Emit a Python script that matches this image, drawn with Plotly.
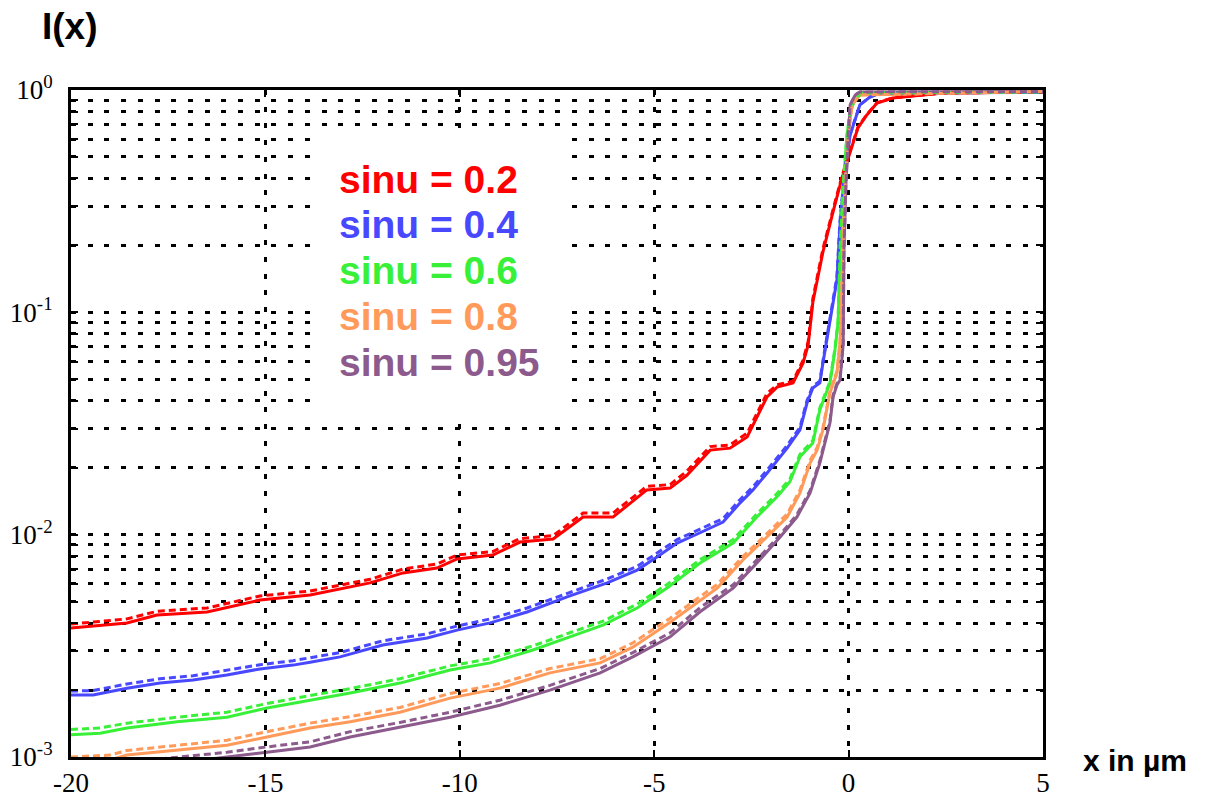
import plotly.graph_objects as go

# ---------------- data ----------------
labels = ["sinu = 0.2", "sinu = 0.4", "sinu = 0.6", "sinu = 0.8", "sinu = 0.95"]
colors = ["#FF0000", "#4848FF", "#38F038", "#FF9A5A", "#8C5A8C"]

x_s02 = [-20, -18.56, -17.79, -16.5, -15.14, -13.85, -12.31, -11.46, -10.59, -10.07, -9.15, -8.45, -7.6,
         -6.83, -6.06, -5.19, -4.59, -4.16, -3.56, -3.05, -2.61, -2.1, -1.84, -1.43, -1.17, -1.04, -0.92,
         -0.66, -0.4, -0.17, 0.04, 0.24, 0.47, 0.73, 1.14, 2.43, 5.0]
y_s02_solid = [0.0038, 0.00401, 0.00435, 0.00449, 0.00508, 0.00535, 0.00607, 0.00673, 0.00708, 0.00778,
               0.0081, 0.00926, 0.00956, 0.012, 0.012, 0.0159, 0.0162, 0.0185, 0.024, 0.0245, 0.0275,
               0.0416, 0.0461, 0.0481, 0.0592, 0.0713, 0.111, 0.187, 0.283, 0.402, 0.526, 0.675, 0.772,
               0.874, 0.921, 0.969, 0.98]
y_s02_dash = [0.00396, 0.00418, 0.00452, 0.00468, 0.0053, 0.00558, 0.0063, 0.007, 0.00738, 0.0081,
              0.0084, 0.0096, 0.0099, 0.0125, 0.0125, 0.0165, 0.0168, 0.0193, 0.0249, 0.0253, 0.0286,
              0.0432, 0.0472, 0.049, 0.061, 0.074, 0.115, 0.193, 0.29, 0.41, 0.533, 0.68, 0.776,
              0.876, 0.922, 0.969, 0.98]

x_s04 = [-20, -19.43, -18.56, -17.71, -16.86, -15.99, -15.14, -14.29, -13.85, -13.08, -11.98, -10.84,
         -10.07, -9.22, -8.27, -7.24, -6.21, -5.44, -4.93, -4.41, -3.82, -3.23, -2.79, -2.46, -2.1, -1.58,
         -1.25, -1.07, -0.92, -0.74, -0.66, -0.56, -0.43, -0.3, -0.22, -0.09, 0.04, 0.17, 0.29, 0.55, 0.81, 5.0]
y_s04_solid = [0.0019, 0.0019, 0.00204, 0.00215, 0.00222, 0.00234, 0.00249, 0.00259, 0.00267, 0.00282,
               0.00319, 0.00343, 0.00372, 0.00401, 0.00449, 0.00525, 0.00607, 0.00693, 0.00794, 0.00917,
               0.0102, 0.0114, 0.0139, 0.0159, 0.0189, 0.0245, 0.0296, 0.0391, 0.0457, 0.0481,
               0.0592, 0.075, 0.1, 0.14, 0.25, 0.446, 0.628, 0.748, 0.857, 0.93, 0.97, 0.975]
y_s04_dash = [0.00198, 0.00199, 0.00213, 0.00225, 0.00232, 0.00245, 0.0026, 0.00271, 0.0028, 0.00295,
              0.00333, 0.00358, 0.00388, 0.00418, 0.00468, 0.00546, 0.00632, 0.0072, 0.00825, 0.0095,
              0.0106, 0.0118, 0.0144, 0.0164, 0.0195, 0.0252, 0.0304, 0.0401, 0.0466, 0.049,
              0.0605, 0.077, 0.103, 0.145, 0.26, 0.45, 0.632, 0.75, 0.858, 0.93, 0.97, 0.975]

x_s06 = [-20, -19.25, -18.56, -17.27, -15.99, -14.96, -13.85, -12.82, -11.54, -10.25, -9.22, -8.12,
         -7.17, -6.32, -5.44, -4.67, -3.82, -2.97, -2.36, -1.84, -1.51, -1.25, -0.92, -0.74, -0.48,
         -0.35, -0.27, -0.22, -0.14, -0.04, 0.04, 0.17, 0.37, 5.0]
y_s06_solid = [0.00126, 0.00128, 0.00135, 0.00144, 0.00151, 0.00166, 0.0018, 0.00194, 0.00215, 0.00246,
               0.00265, 0.00303, 0.00347, 0.00392, 0.00468, 0.00575, 0.00746, 0.00917, 0.012, 0.0148,
               0.0173, 0.0224, 0.0258, 0.0364, 0.0481, 0.0677, 0.09, 0.187, 0.374, 0.628,
               0.796, 0.921, 0.97, 0.98]
y_s06_dash = [0.00133, 0.00135, 0.00142, 0.00151, 0.00159, 0.00174, 0.00189, 0.00203, 0.00225, 0.00257,
              0.00277, 0.00316, 0.00362, 0.00408, 0.00487, 0.00597, 0.00772, 0.0095, 0.0124, 0.0153,
              0.0178, 0.023, 0.0265, 0.0372, 0.049, 0.069, 0.092, 0.19, 0.378, 0.63,
              0.798, 0.922, 0.97, 0.98]

x_s08 = [-20, -19.0, -18.56, -17.27, -15.99, -14.96, -13.85, -12.82, -11.54, -10.25, -8.97, -7.68,
         -6.39, -5.55, -4.59, -3.38, -2.72, -2.1, -1.58, -1.25, -0.99, -0.81, -0.66, -0.48, -0.3,
         -0.22, -0.14, -0.09, -0.01, 0.09, 0.29, 5.0]
y_s08_solid = [0.00095, 0.00097, 0.00102, 0.00107, 0.00113, 0.00123, 0.00135, 0.00144, 0.00159, 0.00184,
               0.00204, 0.00239, 0.00265, 0.00312, 0.00404, 0.00575, 0.00769, 0.00976, 0.012, 0.0154,
               0.021, 0.024, 0.0296, 0.0434, 0.0533, 0.0728, 0.187, 0.374, 0.628, 0.856, 0.95, 0.985]
y_s08_dash = [0.001, 0.00102, 0.00107, 0.00113, 0.00119, 0.0013, 0.00142, 0.00152, 0.00167, 0.00193,
              0.00214, 0.0025, 0.00277, 0.00326, 0.00421, 0.00598, 0.00798, 0.0101, 0.0124, 0.0159,
              0.0216, 0.0247, 0.0303, 0.0442, 0.0542, 0.074, 0.19, 0.378, 0.63, 0.858, 0.95, 0.985]

x_s095 = [-17.71, -16.68, -15.99, -14.96, -13.85, -12.82, -11.54, -10.25, -8.97, -7.68, -6.39, -5.55,
          -4.59, -3.82, -2.97, -2.36, -1.76, -1.33, -0.99, -0.74, -0.48, -0.4, -0.3, -0.22, -0.14,
          -0.12, -0.07, -0.01, 0.04, 0.17, 0.29, 5.0]
y_s095_solid = [0.00092, 0.00097, 0.001, 0.00105, 0.00111, 0.00123, 0.00136, 0.00151, 0.00171, 0.002,
                0.00239, 0.00282, 0.00347, 0.0045, 0.00575, 0.00746, 0.00976, 0.012, 0.0154, 0.021,
                0.0318, 0.0416, 0.0471, 0.0496, 0.0713, 0.187, 0.374, 0.628, 0.856, 0.95, 0.98, 0.985]
y_s095_dash = [0.00098, 0.00102, 0.00105, 0.00111, 0.00117, 0.0013, 0.00143, 0.00159, 0.0018, 0.0021,
               0.0025, 0.00295, 0.00362, 0.0047, 0.00595, 0.0077, 0.01, 0.0123, 0.0158, 0.0215,
               0.0325, 0.0424, 0.0478, 0.0503, 0.073, 0.19, 0.378, 0.63, 0.857, 0.95, 0.98, 0.985]

x_tickvals = [-20, -15, -10, -5, 0, 5]
x_ticktext = ["-20", "-15", "-10", "-5", "0", "5"]
y_tickvals = [0.001, 0.01, 0.1, 1]
y_ticktext = ["10<sup>-3</sup>", "10<sup>-2</sup>", "10<sup>-1</sup>", "10<sup>0</sup>"]
y_minor_vals = [m * d for d in (0.001, 0.01, 0.1) for m in range(2, 10)]

series = [
    (x_s02, y_s02_solid, y_s02_dash),
    (x_s04, y_s04_solid, y_s04_dash),
    (x_s06, y_s06_solid, y_s06_dash),
    (x_s08, y_s08_solid, y_s08_dash),
    (x_s095, y_s095_solid, y_s095_dash),
]

# ---------------- figure ----------------
fig = go.Figure()
for (xs, ys, yd), c in zip(series, colors):
    fig.add_trace(go.Scatter(x=xs, y=ys, mode="lines", line=dict(color=c, width=3),
                             showlegend=False, hoverinfo="skip"))
for (xs, ys, yd), c in zip(series, colors):
    fig.add_trace(go.Scatter(x=xs, y=yd, mode="lines", line=dict(color=c, width=3, dash="7px,4px"),
                             showlegend=False, hoverinfo="skip"))

grid_dash = "5px,11.7px"
tick_font = dict(family="Liberation Serif", size=27, color="black")

fig.update_layout(
    width=1207, height=799,
    margin=dict(l=71, r=164, t=90, b=42, autoexpand=False),
    paper_bgcolor="white", plot_bgcolor="white",
    xaxis=dict(
        range=[-20, 5], tickmode="array", tickvals=x_tickvals, ticktext=x_ticktext,
        showgrid=True, gridcolor="black", gridwidth=2.5, griddash=grid_dash,
        showline=True, linecolor="black", linewidth=3, mirror="ticks",
        ticks="inside", ticklen=7, tickwidth=2, tickcolor="black",
        tickfont=tick_font, ticklabelstandoff=0, zeroline=False, automargin=False,
    ),
    yaxis=dict(
        type="log", range=[-3, 0], tickmode="array", tickvals=y_tickvals, ticktext=y_ticktext,
        showgrid=True, gridcolor="black", gridwidth=2.5, griddash=grid_dash,
        showline=True, linecolor="black", linewidth=3, mirror="ticks",
        ticks="inside", ticklen=7, tickwidth=2, tickcolor="black",
        tickfont=tick_font, ticklabelstandoff=10, zeroline=False, automargin=False,
        minor=dict(tickmode="array", tickvals=y_minor_vals, showgrid=True, gridcolor="black",
                   gridwidth=2.5, griddash=grid_dash, ticks="inside", ticklen=7, tickwidth=2,
                   tickcolor="black"),
    ),
)

# white panel behind the legend text (covers the grid; no curves pass there)
fig.add_shape(type="rect", xref="paper", yref="paper", x0=0.258, x1=0.511, y0=0.513, y1=0.9355,
              fillcolor="white", line=dict(width=0), layer="above")

legend_y_px = [179, 224, 270, 316, 362]
for lab, c, ypx in zip(labels, colors, legend_y_px):
    fig.add_annotation(text="<b>" + lab + "</b>", xref="paper", yref="paper",
                       x=(337 - 71) / 972, y=1 - (ypx - 90) / 667, xanchor="left", yanchor="middle",
                       showarrow=False,
                       font=dict(family="Liberation Sans, Arial, sans-serif", size=39, color=c))

fig.add_annotation(text="<b>I(x)</b>", xref="paper", yref="paper", x=(40 - 71) / 972,
                   y=1 + (90 - 27) / 667, xanchor="left", yanchor="middle", showarrow=False,
                   font=dict(family="Liberation Sans, Arial, sans-serif", size=37, color="black"))
fig.add_annotation(text="<b>x in \u00b5m</b>", xref="paper", yref="paper", x=(1081 - 71) / 972,
                   y=1 - (760 - 90) / 667, xanchor="left", yanchor="middle", showarrow=False,
                   font=dict(family="Liberation Sans, Arial, sans-serif", size=30, color="black"))

fig.write_html("out.html")
